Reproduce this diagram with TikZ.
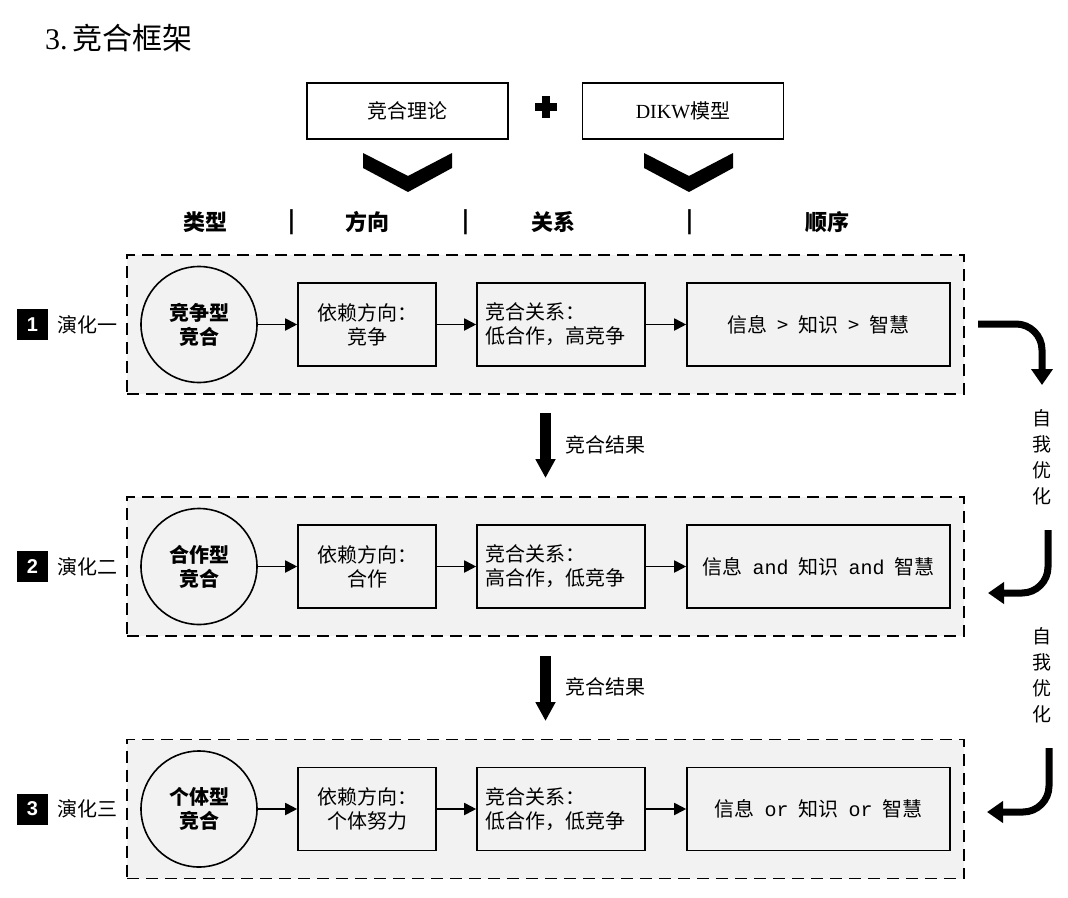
\documentclass[tikz,border=0pt]{standalone}
\usepackage{fontspec}
\setmainfont{Noto Sans CJK SC}
\newfontfamily\lat{Liberation Serif}
\newfontfamily\mono{Liberation Mono}
\newfontfamily\badgef{Liberation Sans}
\usetikzlibrary{arrows.meta}
\definecolor{bg}{HTML}{F2F2F2}
\newcommand\bodyfs{\fontsize{20}{24}\selectfont}
\newcommand\gapsp{\hspace{0.5em}}
\begin{document}
\begin{tikzpicture}[x=1pt,y=-1pt,
  rowbox/.style={draw, fill=bg, line width=1.6pt, dash pattern=on 12pt off 7pt, minimum width=837pt, minimum height=139pt, inner sep=0pt},
  stepbox/.style={draw, fill=bg, line width=1.6pt, minimum height=83pt, inner sep=0pt, font=\bodyfs, align=center},
  relbox/.style={draw, fill=bg, line width=1.6pt, minimum height=83pt, text width=152pt, inner sep=8pt, font=\bodyfs, align=left},
  typecirc/.style={circle, draw, fill=bg, line width=1.6pt, minimum size=116pt, inner sep=0pt, font=\bodyfs\bfseries, align=center},
  topbox/.style={draw, line width=1.6pt, minimum width=201pt, minimum height=56pt, inner sep=0pt, font=\bodyfs},
  header/.style={font=\fontsize{22}{26}\selectfont\bfseries},
  badge/.style={fill=black, minimum size=31pt, inner sep=0pt, text=white, font=\badgef\fontsize{20}{24}\selectfont\bfseries},
  evo/.style={font=\bodyfs},
  flow/.style={line width=1.8pt, -{Triangle[length=12pt,width=12pt]}},
  fatarrow/.style={line width=11pt, -{Triangle[length=19pt,width=19pt]}},
  curvearrow/.style={line width=7pt, rounded corners=26pt, -{Triangle[length=16pt,width=21pt]}},
  vtext/.style={font=\fontsize{19}{26}\selectfont, align=center}
]
\useasboundingbox (0,0) rectangle (1068,897);

% title
\node[anchor=west, inner sep=0pt, font=\fontsize{30}{34}\selectfont] (title) at (45,38) {{\lat 3.}\,竞合框架};

% top boxes
\node[topbox] (theory) at (407.5,111) {竞合理论};
\node[topbox] (dikw) at (683,111) {{\lat DIKW}模型};
\fill (535,103) rectangle (557,111);
\fill (542,96) rectangle (550,118);

% chevrons
\fill (363,153) -- (408,176) -- (452,153) -- (452,168) -- (408,192) -- (363,168) -- cycle;
\fill (644,153) -- (689,176) -- (733,153) -- (733,168) -- (689,192) -- (644,168) -- cycle;

% headers
\node[header] (h1) at (205,222) {类型};
\node[header] (s1) at (292,222) {|};
\node[header] (h2) at (367,222) {方向};
\node[header] (s2) at (466,222) {|};
\node[header] (h3) at (553,222) {关系};
\node[header] (s3) at (690,222) {|};
\node[header] (h4) at (827,222) {顺序};

% rows
\foreach \r/\y in {1/324.5, 2/566.5, 3/809} {
  \node[rowbox] (row\r) at (545.5,\y) {};
}

% row 1
\node[typecirc] (c1) at (199,324.5) {竞争型\\竞合};
\node[stepbox, minimum width=138pt] (a1) at (367,324.5) {依赖方向：\\竞争};
\node[relbox] (b1) at (561,324.5) {竞合关系：\\低合作，高竞争};
\node[stepbox, minimum width=263pt] (d1) at (818.5,324.5) {信息{\gapsp}>{\gapsp}知识{\gapsp}>{\gapsp}智慧};
\draw[flow] (c1) -- (a1);
\draw[flow] (a1) -- (b1);
\draw[flow] (b1) -- (d1);
\node[badge] (n1) at (32.5,324.5) {1};
\node[evo] (e1) at (87,324.5) {演化一};

% row 2
\node[typecirc] (c2) at (199,566.5) {合作型\\竞合};
\node[stepbox, minimum width=138pt] (a2) at (367,566.5) {依赖方向：\\合作};
\node[relbox] (b2) at (561,566.5) {竞合关系：\\高合作，低竞争};
\node[stepbox, minimum width=263pt] (d2) at (818.5,566.5) {信息{\gapsp}{\mono and}{\gapsp}知识{\gapsp}{\mono and}{\gapsp}智慧};
\draw[flow] (c2) -- (a2);
\draw[flow] (a2) -- (b2);
\draw[flow] (b2) -- (d2);
\node[badge] (n2) at (32.5,566.5) {2};
\node[evo] (e2) at (87,566.5) {演化二};

% row 3
\node[typecirc] (c3) at (199,809) {个体型\\竞合};
\node[stepbox, minimum width=138pt] (a3) at (367,809) {依赖方向：\\个体努力};
\node[relbox] (b3) at (561,809) {竞合关系：\\低合作，低竞争};
\node[stepbox, minimum width=263pt] (d3) at (818.5,809) {信息{\gapsp}{\mono or}{\gapsp}知识{\gapsp}{\mono or}{\gapsp}智慧};
\draw[flow] (c3) -- (a3);
\draw[flow] (a3) -- (b3);
\draw[flow] (b3) -- (d3);
\node[badge] (n3) at (32.5,809) {3};
\node[evo] (e3) at (87,809) {演化三};

% result arrows
\coordinate (r1s) at (545.5,413);
\coordinate (r1e) at (545.5,478);
\draw[fatarrow] (r1s) -- (r1e);
\node[anchor=west, font=\bodyfs] (res1) at (562,445) {竞合结果};
\coordinate (r2s) at (545.5,656);
\coordinate (r2e) at (545.5,721);
\draw[fatarrow] (r2s) -- (r2e);
\node[anchor=west, font=\bodyfs] (res2) at (562,687) {竞合结果};

% self-optimisation arrows
\coordinate (o1s) at (978,324);
\coordinate (o1e) at (1042,385);
\draw[curvearrow] (o1s) -- (1042,324) -- (o1e);
\node[vtext] (v1) at (1042,457) {自\\我\\优\\化};
\coordinate (o2s) at (1048,530);
\coordinate (o2e) at (988,593);
\draw[curvearrow] (o2s) -- (1048,593) -- (o2e);
\node[vtext] (v2) at (1042,675) {自\\我\\优\\化};
\coordinate (o3s) at (1049,748);
\coordinate (o3e) at (987,812);
\draw[curvearrow] (o3s) -- (1049,812) -- (o3e);
\end{tikzpicture}
\end{document}
